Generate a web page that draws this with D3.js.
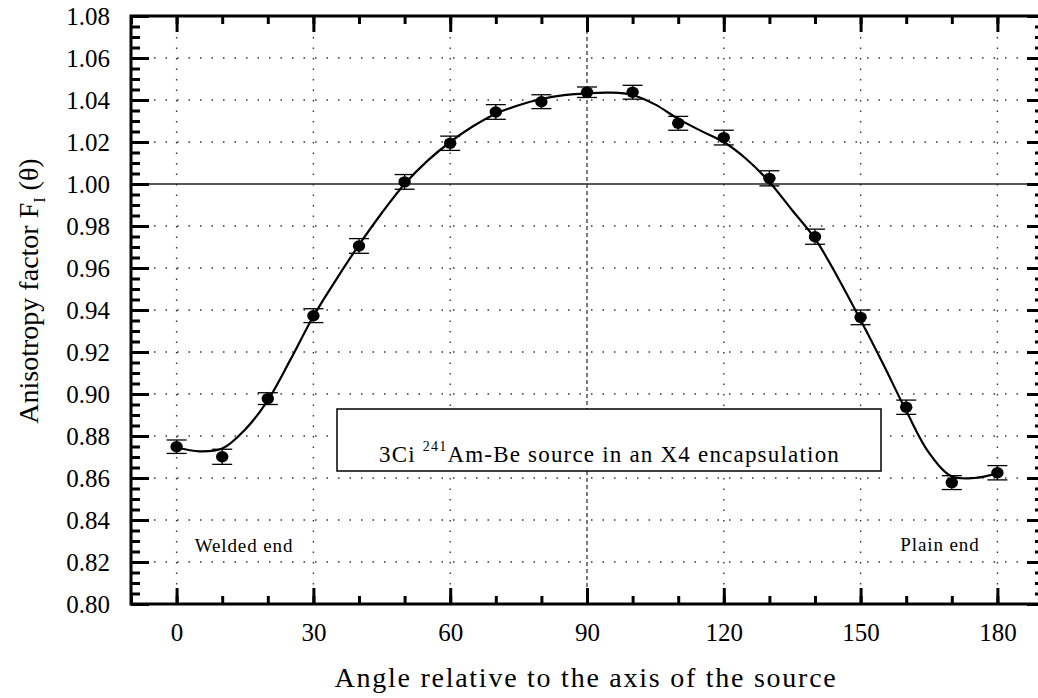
<!DOCTYPE html>
<html>
<head>
<meta charset="utf-8">
<script src="https://cdn.jsdelivr.net/npm/d3@7"></script>
<style>
  html, body { margin: 0; padding: 0; background: #fff; }
  svg { display: block; font-family: "Liberation Serif", "Times New Roman", serif; }
</style>
</head>
<body>
<svg id="chart" width="1038" height="698"></svg>
<script>
// Measured anisotropy factor vs. angle
const angles = [0, 10, 20, 30, 40, 50, 60, 70, 80, 90, 100, 110, 120, 130, 140, 150, 160, 170, 180];
const factors = [0.8749, 0.8701, 0.8978, 0.9373, 0.9705, 1.0010, 1.0194, 1.0343, 1.0392, 1.0437,
                 1.0437, 1.0289, 1.0221, 1.0027, 0.9749, 0.9365, 0.8937, 0.8578, 0.8625];
const errors = [0.0032, 0.0036, 0.0028, 0.0033, 0.0035, 0.0035, 0.0034, 0.0035, 0.0033, 0.0025,
                0.0033, 0.0033, 0.0035, 0.0036, 0.0036, 0.0035, 0.0034, 0.0033, 0.0034];

// Smooth fitted curve, sampled every 5 degrees
const fitAngles = [0, 5, 10, 15, 20, 25, 30, 35, 40, 45, 50, 55, 60, 65, 70, 75, 80, 85, 90,
                   95, 100, 105, 110, 115, 120, 125, 130, 135, 140, 145, 150, 155, 160, 165, 170, 175, 180];
const fitValues = [0.8745, 0.8727, 0.8740, 0.8830, 0.8970, 0.9165, 0.9370, 0.9545, 0.9710, 0.9862, 1.0000,
                   1.0110, 1.0200, 1.0275, 1.0335, 1.0375, 1.0405, 1.0423, 1.0432, 1.0435, 1.0424,
                   1.0378, 1.0310, 1.0253, 1.0200, 1.0118, 1.0010, 0.9875, 0.9740, 0.9555, 0.9352,
                   0.9140, 0.8920, 0.8720, 0.8608, 0.8600, 0.8622];

const xMajor = [0, 30, 60, 90, 120, 150, 180];
const xMinor = d3.range(-10, 191, 10);
const yMajor = d3.range(0, 15).map(i => +(0.80 + i * 0.02).toFixed(2));
const yMinor = d3.range(0, 57).map(i => +(0.80 + i * 0.005).toFixed(3));

const svg = d3.select("#chart");
const plotL = 131, plotR = 1043, plotT = 16, plotB = 604;

const x = d3.scaleLinear().domain([-10, 190]).range([plotL, plotR]);
const y = d3.scaleLinear().domain([0.80, 1.08]).range([plotB, plotT]);

// Dotted grid
const grid = svg.append("g");
grid.selectAll("line.hg").data(yMajor.filter(v => v > 0.80 && v < 1.08 && Math.abs(v - 1.0) > 1e-6))
  .join("line")
  .attr("x1", plotL).attr("x2", plotR)
  .attr("y1", d => y(d)).attr("y2", d => y(d))
  .attr("stroke", "#333").attr("stroke-width", 1.4)
  .attr("stroke-dasharray", "1.5,10");
grid.selectAll("line.vg").data(xMajor.filter(v => v !== 90))
  .join("line")
  .attr("x1", d => x(d)).attr("x2", d => x(d))
  .attr("y1", plotT).attr("y2", plotB)
  .attr("stroke", "#333").attr("stroke-width", 1.4)
  .attr("stroke-dasharray", "1.5,9");
// Reference lines: 90 degrees and unity
grid.append("line")
  .attr("x1", x(90)).attr("x2", x(90)).attr("y1", plotT).attr("y2", plotB)
  .attr("stroke", "#444").attr("stroke-width", 1.4)
  .attr("stroke-dasharray", "4,3");
grid.append("line")
  .attr("x1", plotL).attr("x2", plotR).attr("y1", y(1.0)).attr("y2", y(1.0))
  .attr("stroke", "#222").attr("stroke-width", 1.3);

// Axes with inward ticks
function styleAxis(g) {
  g.select(".domain").remove();
  g.attr("font-family", null).attr("font-size", null);
  g.selectAll(".tick line").attr("stroke", "#000").attr("stroke-width", 3);
  g.selectAll(".tick text")
    .attr("font-family", "Liberation Serif, Times New Roman, serif")
    .attr("font-size", 25).attr("fill", "#000");
}
const fmtY = d3.format(".2f");

svg.append("g").attr("transform", `translate(${plotL},0)`)
  .call(d3.axisLeft(y).tickValues(yMinor).tickSize(-9).tickFormat(""))
  .call(styleAxis);
svg.append("g").attr("transform", `translate(${plotL},0)`)
  .call(d3.axisLeft(y).tickValues(yMajor).tickSize(-18).tickPadding(21).tickFormat(fmtY))
  .call(styleAxis);
svg.append("g").attr("transform", `translate(${plotR},0)`)
  .call(d3.axisRight(y).tickValues(yMinor).tickSize(-8).tickFormat(""))
  .call(styleAxis);
svg.append("g").attr("transform", `translate(${plotR},0)`)
  .call(d3.axisRight(y).tickValues(yMajor).tickSize(-16).tickFormat(""))
  .call(styleAxis);

svg.append("g").attr("transform", `translate(0,${plotB})`)
  .call(d3.axisBottom(x).tickValues(xMinor).tickSize(-8).tickFormat(""))
  .call(styleAxis);
svg.append("g").attr("transform", `translate(0,${plotB})`)
  .call(d3.axisBottom(x).tickValues(xMajor).tickSize(-16).tickPadding(19).tickFormat(d3.format("d")))
  .call(styleAxis);
svg.append("g").attr("transform", `translate(0,${plotT})`)
  .call(d3.axisTop(x).tickValues(xMinor).tickSize(-8).tickFormat(""))
  .call(styleAxis);
svg.append("g").attr("transform", `translate(0,${plotT})`)
  .call(d3.axisTop(x).tickValues(xMajor).tickSize(-16).tickFormat(""))
  .call(styleAxis);

// Frame
svg.append("rect")
  .attr("x", plotL).attr("y", plotT)
  .attr("width", plotR - plotL).attr("height", plotB - plotT)
  .attr("fill", "none").attr("stroke", "#000").attr("stroke-width", 3);

// Fitted curve
const fit = fitAngles.map((a, i) => [a, fitValues[i]]);
svg.append("path")
  .datum(fit)
  .attr("d", d3.line().x(d => x(d[0])).y(d => y(d[1])).curve(d3.curveCatmullRom.alpha(0.5)))
  .attr("fill", "none").attr("stroke", "#000").attr("stroke-width", 2.2);

// Error bars and points
const pts = angles.map((a, i) => ({ a, v: factors[i], e: errors[i] }));
const eb = svg.append("g").attr("stroke", "#000").attr("stroke-width", 1.3);
eb.selectAll("line.v").data(pts).join("line")
  .attr("x1", d => x(d.a)).attr("x2", d => x(d.a))
  .attr("y1", d => y(d.v - d.e)).attr("y2", d => y(d.v + d.e));
eb.selectAll("line.t").data(pts).join("line")
  .attr("x1", d => x(d.a) - 10).attr("x2", d => x(d.a) + 10)
  .attr("y1", d => y(d.v + d.e)).attr("y2", d => y(d.v + d.e));
eb.selectAll("line.b").data(pts).join("line")
  .attr("x1", d => x(d.a) - 10).attr("x2", d => x(d.a) + 10)
  .attr("y1", d => y(d.v - d.e)).attr("y2", d => y(d.v - d.e));
svg.append("g").selectAll("ellipse").data(pts).join("ellipse")
  .attr("cx", d => x(d.a)).attr("cy", d => y(d.v))
  .attr("rx", 6.2).attr("ry", 5.7)
  .attr("fill", "#000");

// Legend box
const lg = svg.append("g");
lg.append("rect")
  .attr("x", 337).attr("y", 409).attr("width", 544).attr("height", 62)
  .attr("fill", "#fff").attr("stroke", "#000").attr("stroke-width", 1.5);
const lt = lg.append("text")
  .attr("x", 379).attr("y", 462)
  .attr("font-size", 23).attr("letter-spacing", 1.2).attr("fill", "#000");
lt.append("tspan").text("3Ci  ");
lt.append("tspan").attr("font-size", 14).attr("dy", -11).text("241");
lt.append("tspan").attr("dy", 11).text("Am-Be source in an X4 encapsulation");

// End annotations
svg.append("text").attr("x", 244).attr("y", 552).attr("text-anchor", "middle")
  .attr("font-size", 19).attr("letter-spacing", 0.9).text("Welded end");
svg.append("text").attr("x", 940).attr("y", 551).attr("text-anchor", "middle")
  .attr("font-size", 19).attr("letter-spacing", 0.9).text("Plain end");

// Axis titles
svg.append("text").attr("x", (plotL + plotR) / 2 - 1).attr("y", 687)
  .attr("text-anchor", "middle").attr("font-size", 28).attr("letter-spacing", 1.75)
  .text("Angle relative to the axis of the source");

const yt = svg.append("text")
  .attr("transform", "translate(38,291) rotate(-90)")
  .attr("text-anchor", "middle").attr("font-size", 28);
yt.append("tspan").text("Anisotropy factor F");
yt.append("tspan").attr("font-size", 16).attr("dy", 7).text("I");
yt.append("tspan").attr("dy", -7).text(" (θ)");
</script>
</body>
</html>
